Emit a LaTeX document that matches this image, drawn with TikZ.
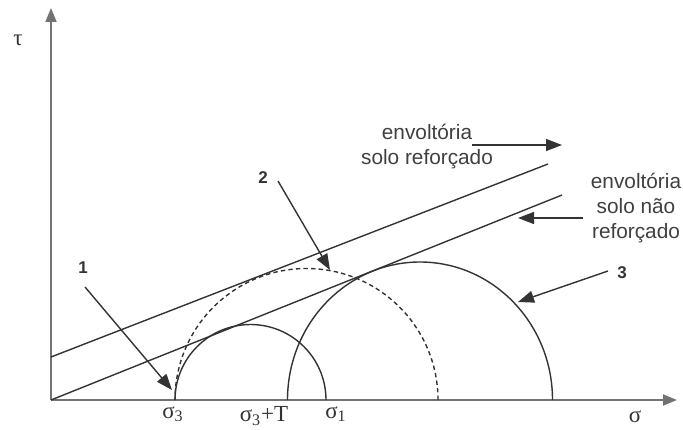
\documentclass[tikz,border=0pt]{standalone}
\usepackage{fontspec}
\setmainfont{Liberation Sans}
\newfontfamily\grk{Liberation Serif}
\usetikzlibrary{arrows.meta}
\usetikzlibrary{positioning}

\tikzset{
    axis/.style={draw=black!55, line width=1pt, -{Triangle[length=7pt,width=5.5pt]}},
    envline/.style={draw=black!80, line width=0.7pt},
    mohr/.style={draw=black!80, line width=0.7pt},
    pointer/.style={draw=black!80, line width=0.7pt, -{Triangle[length=8pt,width=6pt]}},
    lbl/.style={font=\fontsize{10.4}{12.5}\selectfont, text=black!75, align=center},
    num/.style={font=\fontsize{8.5}{10}\selectfont\bfseries, text=black!80},
    sym/.style={font=\grk\fontsize{11.5}{13}\selectfont, text=black!80, inner sep=0pt},
}

\begin{document}
\begin{tikzpicture}[x=0.5pt, y=0.5pt]
    \useasboundingbox (-51,-29) rectangle (632,400);

    % axes
    \coordinate (o) at (0,0);
    \coordinate (ytop) at (0,392);
    \coordinate (xend) at (626,0);
    \draw[axis] (o) -- (ytop);
    \draw[axis] (o) -- (xend);
    \node[sym] (tau) at (-33,360) {τ};
    \node[sym, anchor=north] (sig) at (584,-10) {σ};

    % envelopes
    \coordinate (r0) at (0,43);
    \coordinate (r1) at (497,236);
    \coordinate (u1) at (511,205);
    \draw[envline] (r0) -- (r1);
    \draw[envline] (o) -- (u1);

    % Mohr circles
    \draw[mohr] (275,0) arc[start angle=0, end angle=180, radius=75.5];
    \draw[mohr, dash pattern=on 2.2pt off 1.6pt] (387,0) arc[start angle=0, end angle=180, radius=131.5];
    \draw[mohr] (501.5,0) arc[start angle=0, end angle=180, x radius=132.5, y radius=138];

    % stresses on the axis
    \node[sym, anchor=north] (s3) at (122,-6) {σ\textsubscript{3}};
    \node[sym, anchor=north] (s3t) at (213,-6) {σ\textsubscript{3}+T};
    \node[sym, anchor=north] (s1) at (285,-6) {σ\textsubscript{1}};

    % numbered pointers
    \node[num] (n1) at (32,132) {1};
    \node[num] (n2) at (212,222) {2};
    \node[num] (n3) at (571,127) {3};
    \coordinate (a1s) at (34,113);
    \coordinate (a1t) at (121,10);
    \coordinate (a2s) at (227,219);
    \coordinate (a2t) at (279,130);
    \coordinate (a3s) at (557,129);
    \coordinate (a3t) at (467,98);
    \draw[pointer] (a1s) -- (a1t);
    \draw[pointer] (a2s) -- (a2t);
    \draw[pointer] (a3s) -- (a3t);

    % envelope labels
    \node[lbl] (envr) at (376,253) {envoltória\\solo reforçado};
    \node[lbl] (envn) at (585,192) {envoltória\\solo não\\reforçado};
    \coordinate (b1s) at (421,255);
    \coordinate (b1t) at (511,255);
    \coordinate (b2s) at (532,182);
    \coordinate (b2t) at (467,182);
    \draw[pointer] (b1s) -- (b1t);
    \draw[pointer] (b2s) -- (b2t);
\end{tikzpicture}
\end{document}
